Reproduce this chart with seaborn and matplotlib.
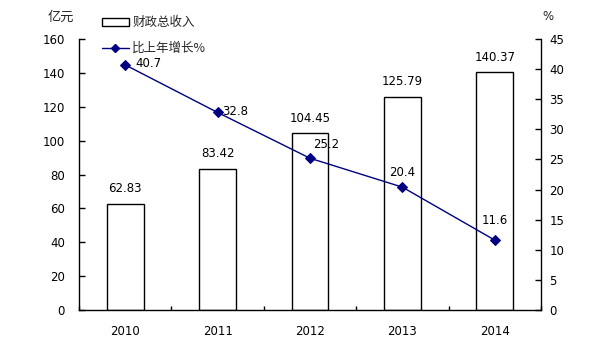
import numpy as np
import pandas as pd
import matplotlib
matplotlib.use("Agg")
import matplotlib.pyplot as plt
from matplotlib.patches import Patch
from matplotlib.lines import Line2D
import seaborn as sns

years = ["2010", "2011", "2012", "2013", "2014"]
revenue = [62.83, 83.42, 104.45, 125.79, 140.37]
growth = [40.7, 32.8, 25.2, 20.4, 11.6]
revenue_labels = ["62.83", "83.42", "104.45", "125.79", "140.37"]
growth_labels = ["40.7", "32.8", "25.2", "20.4", "11.6"]
left_ticks = [0, 20, 40, 60, 80, 100, 120, 140, 160]
right_ticks = [0, 5, 10, 15, 20, 25, 30, 35, 40, 45]

sns.set_theme(style="white")
plt.rcParams['font.family'] = ['DejaVu Sans', 'Noto Sans CJK SC']
FS = 8.5

fig = plt.figure(figsize=(5.95, 3.43), dpi=100)
ax = fig.add_axes([79/595, 1 - 310/343, (541-79)/595, (310-39)/343])

df = pd.DataFrame({"year": years, "revenue": revenue})
sns.barplot(data=df, x="year", y="revenue", ax=ax, fill=False, width=0.4,
            edgecolor="black", linewidth=1.0, color="black")
for p in ax.patches:
    p.set_edgecolor("black")
    p.set_facecolor("white")
    p.set_fill(True)
ax.set_xlim(-0.5, 4.5)
ax.set_ylim(0, 160)
ax.set_yticks(left_ticks)
ax.set_xlabel("")
ax.set_ylabel("")
for i, (v, t) in enumerate(zip(revenue, revenue_labels)):
    ax.annotate(t, (i, v), xytext=(0, 15), textcoords="offset pixels",
                ha="center", va="center", fontsize=FS, color="black")

ax2 = ax.twinx()
sns.lineplot(x=np.arange(len(years)), y=growth, ax=ax2, color="#000080",
             marker="D", markersize=5, markeredgecolor="#000080", linewidth=1.0)
ax2.set_ylim(0, 45)
ax2.set_yticks(right_ticks)
ax2.set_xlim(-0.5, 4.5)

label_style = [("left", (10, 1)), ("left", (5, 1)), ("left", (3, 14)),
               ("center", (0, 15)), ("center", (0, 20))]
for i, (v, t) in enumerate(zip(growth, growth_labels)):
    ha, off = label_style[i]
    ax2.annotate(t, (i, v), xytext=off, textcoords="offset pixels",
                 ha=ha, va="center", fontsize=FS, color="black")

# axes styling
for a in (ax, ax2):
    for s in a.spines.values():
        s.set_visible(False)
ax.spines["left"].set_visible(True)
ax.spines["bottom"].set_visible(True)
ax2.spines["right"].set_visible(True)
for s in (ax.spines["left"], ax.spines["bottom"], ax2.spines["right"]):
    s.set_color("black")
    s.set_linewidth(1.0)

ax.tick_params(axis="y", direction="in", length=4, width=1, left=True,
               labelsize=FS, colors="black", pad=10)
ax2.tick_params(axis="y", direction="in", length=4, width=1, right=True,
                labelsize=FS, colors="black", pad=6)
ax.set_xticks(np.arange(len(years)))
ax.set_xticklabels(years)
ax.tick_params(axis="x", length=0, labelsize=FS, colors="black", pad=11)
ax.set_xticks(np.arange(-0.5, 5, 1.0), minor=True)
ax.tick_params(axis="x", which="minor", direction="in", length=3, width=1,
               bottom=True, color="black")

fig.text(48/595, 1 - 17/343, "亿元", fontsize=FS + 1, ha="left", va="center",
         family=['Noto Sans CJK SC', 'DejaVu Sans'])
fig.text(548/595, 1 - 16/343, "%", fontsize=FS, ha="center", va="center")

handles = [Patch(facecolor="white", edgecolor="black", linewidth=1.0),
           Line2D([0], [0], color="#000080", marker="D", markersize=4, linewidth=1.0)]
leg = fig.legend(handles, ["财政总收入", "比上年增长%"], loc="upper left",
                 bbox_to_anchor=(91/595, 1 - 5/343), frameon=False,
                 prop={"family": ['Noto Sans CJK SC', 'DejaVu Sans'], "size": FS + 0.5},
                 handlelength=2.1, handleheight=0.55, handletextpad=0.3,
                 labelspacing=1.0)

fig.savefig("out.png", dpi=100)
